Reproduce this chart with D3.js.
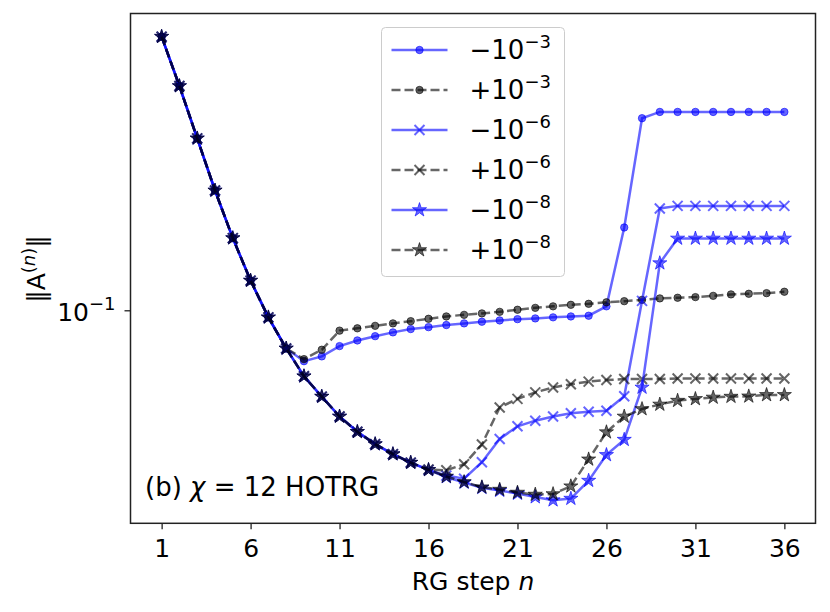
<!DOCTYPE html>
<html>
<head>
<meta charset="utf-8">
<script src="https://cdn.jsdelivr.net/npm/d3@7"></script>
<style>
  body { margin: 0; background: #fff; }
  text { font-family: "DejaVu Sans", sans-serif; fill: #000; }
</style>
</head>
<body>
<script>
// RG steps
const steps = [1, 2, 3, 4, 5, 6, 7, 8, 9, 10, 11, 12, 13, 14, 15, 16, 17, 18,
               19, 20, 21, 22, 23, 24, 25, 26, 27, 28, 29, 30, 31, 32, 33, 34, 35, 36];
const xTicks = [1, 6, 11, 16, 21, 26, 31, 36];

// ||A^(n)|| for each perturbation
const minus3 = [0.485, 0.365, 0.270, 0.200, 0.152, 0.119, 0.0963, 0.0805,
  0.0748, 0.0769, 0.0816, 0.0843, 0.0864, 0.0883, 0.0900, 0.0910, 0.0921, 0.0930,
  0.0939, 0.0946, 0.0953, 0.0957, 0.0963, 0.0968, 0.0972, 0.1026, 0.1616, 0.3032,
  0.3144, 0.3144, 0.3144, 0.3144, 0.3144, 0.3144, 0.3144, 0.3144];
const plus3 = [0.485, 0.365, 0.270, 0.200, 0.152, 0.119, 0.0963, 0.0805,
  0.0757, 0.0799, 0.0892, 0.0904, 0.0917, 0.0930, 0.0942, 0.0955, 0.0968, 0.0977,
  0.0985, 0.0994, 0.1006, 0.1017, 0.1026, 0.1035, 0.1041, 0.1050, 0.1057, 0.1065,
  0.1074, 0.1078, 0.1082, 0.1090, 0.1099, 0.1103, 0.1107, 0.1116];
const minus6 = [0.485, 0.365, 0.270, 0.200, 0.152, 0.119, 0.0963, 0.0805,
  0.0686, 0.0610, 0.0544, 0.0498, 0.0464, 0.0438, 0.0417,
  0.0400, 0.0387, 0.0380, 0.0418, 0.0478, 0.0514, 0.0531, 0.0544, 0.0554, 0.0559,
  0.0562, 0.0611, 0.1059, 0.1803,
  0.1830, 0.1830, 0.1830, 0.1830, 0.1830, 0.1830, 0.1830];
const plus6 = [0.485, 0.365, 0.270, 0.200, 0.152, 0.119, 0.0963, 0.0805,
  0.0686, 0.0610, 0.0544, 0.0498, 0.0464, 0.0438, 0.0417,
  0.0401, 0.0399, 0.0413, 0.0463, 0.0573, 0.0602, 0.0625, 0.0643, 0.0655, 0.0665,
  0.0671, 0.0675, 0.0675, 0.0675,
  0.0677, 0.0677, 0.0677, 0.0677, 0.0677, 0.0677, 0.0677];
const minus8 = [0.485, 0.365, 0.270, 0.200, 0.152, 0.119, 0.0963, 0.0805,
  0.0686, 0.0610, 0.0544, 0.0498, 0.0464, 0.0438, 0.0417,
  0.0400, 0.0384, 0.0372, 0.0361, 0.0355, 0.0349, 0.0342, 0.0336, 0.0339, 0.0376,
  0.0436, 0.0476, 0.0643, 0.1316,
  0.1517, 0.1517, 0.1517, 0.1517, 0.1517, 0.1517, 0.1517];
const plus8 = [0.485, 0.365, 0.270, 0.200, 0.152, 0.119, 0.0963, 0.0805,
  0.0686, 0.0610, 0.0544, 0.0498, 0.0464, 0.0438, 0.0417,
  0.0400, 0.0385, 0.0373, 0.0362, 0.0357, 0.0351, 0.0347, 0.0348, 0.0364, 0.0425,
  0.0497, 0.0544, 0.0568, 0.0583,
  0.0596, 0.0602, 0.0607, 0.0610, 0.0611, 0.0616, 0.0616];

const seriesNames = ["\u221210", "+10", "\u221210", "+10", "\u221210", "+10"];
const seriesExps = ["\u22123", "\u22123", "\u22126", "\u22126", "\u22128", "\u22128"];

let width = 830,
    height = 612
let margin = {left: 130.5, right: 14.5, top: 13.5, bottom: 88.7}

let series = [
  {vals: minus3, color: "blue", dash: null, marker: "dot"},
  {vals: plus3, color: "black", dash: "9,4", marker: "dot"},
  {vals: minus6, color: "blue", dash: null, marker: "x"},
  {vals: plus6, color: "black", dash: "9,4", marker: "x"},
  {vals: minus8, color: "blue", dash: null, marker: "star"},
  {vals: plus8, color: "black", dash: "9,4", marker: "star"}
]

let svg = d3.select("body").append("svg")
    .attr("width", width)
    .attr("height", height)

svg.append("rect").attr("width", width).attr("height", height).attr("fill", "white")

// matplotlib style 5% margins
let xPad = (d3.max(steps) - d3.min(steps)) * 0.05
let x = d3.scaleLinear()
    .domain([d3.min(steps) - xPad, d3.max(steps) + xPad])
    .range([margin.left, width - margin.right])

let allVals = series.flatMap(s => s.vals)
let lmin = Math.log10(d3.min(allVals)), lmax = Math.log10(d3.max(allVals))
let lPad = (lmax - lmin) * 0.05
let y = d3.scaleLog()
    .domain([Math.pow(10, lmin - lPad), Math.pow(10, lmax + lPad)])
    .range([height - margin.bottom, margin.top])

let plot = svg.append("g")

let line = d3.line()
    .x((d, i) => x(steps[i]))
    .y(d => y(d))

function drawMarker(g, type, color) {
  if (type == "dot") {
    g.append("circle").attr("r", 3.7)
      .attr("fill", color).attr("fill-opacity", 0.6)
      .attr("stroke", color).attr("stroke-opacity", 0.6).attr("stroke-width", 1)
  } else if (type == "x") {
    let r = 5
    g.append("path").attr("d", `M${-r},${-r}L${r},${r}M${-r},${r}L${r},${-r}`)
      .attr("fill", "none")
      .attr("stroke", color).attr("stroke-opacity", 0.6).attr("stroke-width", 2)
  } else {
    g.append("path").attr("d", d3.symbol(d3.symbolStar, 62)())
      .attr("fill", color).attr("fill-opacity", 0.6)
      .attr("stroke", color).attr("stroke-opacity", 0.6).attr("stroke-width", 1)
  }
}

series.forEach(s => {
  let g = plot.append("g")
  g.append("path")
    .attr("d", line(s.vals))
    .attr("fill", "none")
    .attr("stroke", s.color)
    .attr("stroke-opacity", 0.6)
    .attr("stroke-width", 2.5)
    .attr("stroke-dasharray", s.dash)
  s.vals.forEach((v, i) => {
    let m = g.append("g").attr("transform", `translate(${x(steps[i])},${y(v)})`)
    drawMarker(m, s.marker, s.color)
  })
})

// frame
svg.append("rect")
    .attr("x", margin.left).attr("y", margin.top)
    .attr("width", width - margin.left - margin.right)
    .attr("height", height - margin.top - margin.bottom)
    .attr("fill", "none").attr("stroke", "#222").attr("stroke-width", 1.5)

// x axis
let xAxis = svg.append("g")
    .attr("transform", `translate(0,${height - margin.bottom})`)
    .call(d3.axisBottom(x).tickValues(xTicks).tickSize(6).tickPadding(10).tickFormat(d3.format("d")))
xAxis.select(".domain").remove()
xAxis.selectAll("line").attr("stroke", "#222").attr("stroke-width", 1.3)
xAxis.selectAll("text").attr("font-size", 25).attr("font-family", "DejaVu Sans").attr("fill", "#000")

// y axis: only one decade tick inside the range
let yTick = svg.append("g").attr("transform", `translate(${margin.left},${y(0.1)})`)
yTick.append("line").attr("x1", -6).attr("x2", 0).attr("stroke", "#222").attr("stroke-width", 1.3)
let yt = yTick.append("text").attr("x", -15).attr("y", 10).attr("text-anchor", "end").attr("font-size", 25)
yt.append("tspan").text("10")
yt.append("tspan").attr("dy", -11).attr("font-size", 18).text("\u22121")

// axis labels
let xl = svg.append("text")
    .attr("x", (margin.left + width - margin.right) / 2)
    .attr("y", 590)
    .attr("text-anchor", "middle")
    .attr("font-size", 25)
xl.append("tspan").text("RG step ")
xl.append("tspan").attr("font-style", "italic").text("n")

let yl = svg.append("text")
    .attr("transform", "translate(45,269) rotate(-90)")
    .attr("text-anchor", "middle")
    .attr("font-size", 25)
yl.append("tspan").text("\u2016A")
yl.append("tspan").attr("dy", -10).attr("font-size", 18).text("(")
yl.append("tspan").attr("font-size", 18).attr("font-style", "italic").text("n")
yl.append("tspan").attr("font-size", 18).text(")")
yl.append("tspan").attr("dy", 10).text("\u2016")

// annotation
let ann = svg.append("text").attr("x", 145).attr("y", 496).attr("font-size", 26)
ann.append("tspan").text("(b) ")
ann.append("tspan").attr("font-style", "italic").text("\u03c7")
ann.append("tspan").text(" = 12 HOTRG")

// legend
let lg = svg.append("g").attr("transform", "translate(381.5,27.5)")
lg.append("rect")
    .attr("width", 183).attr("height", 249).attr("rx", 4)
    .attr("fill", "white").attr("fill-opacity", 0.8)
    .attr("stroke", "#ccc").attr("stroke-width", 1)
series.forEach((s, i) => {
  let row = lg.append("g").attr("transform", `translate(0,${22.5 + i * 40})`)
  row.append("line").attr("x1", 10).attr("x2", 66)
    .attr("stroke", s.color).attr("stroke-opacity", 0.6)
    .attr("stroke-width", 2.5).attr("stroke-dasharray", s.dash)
  let m = row.append("g").attr("transform", "translate(38,0)")
  drawMarker(m, s.marker, s.color)
  let t = row.append("text").attr("x", 88).attr("y", 9).attr("font-size", 26)
  t.append("tspan").text(seriesNames[i])
  t.append("tspan").attr("dy", -11).attr("font-size", 18).text(seriesExps[i])
})
</script>
</body>
</html>
